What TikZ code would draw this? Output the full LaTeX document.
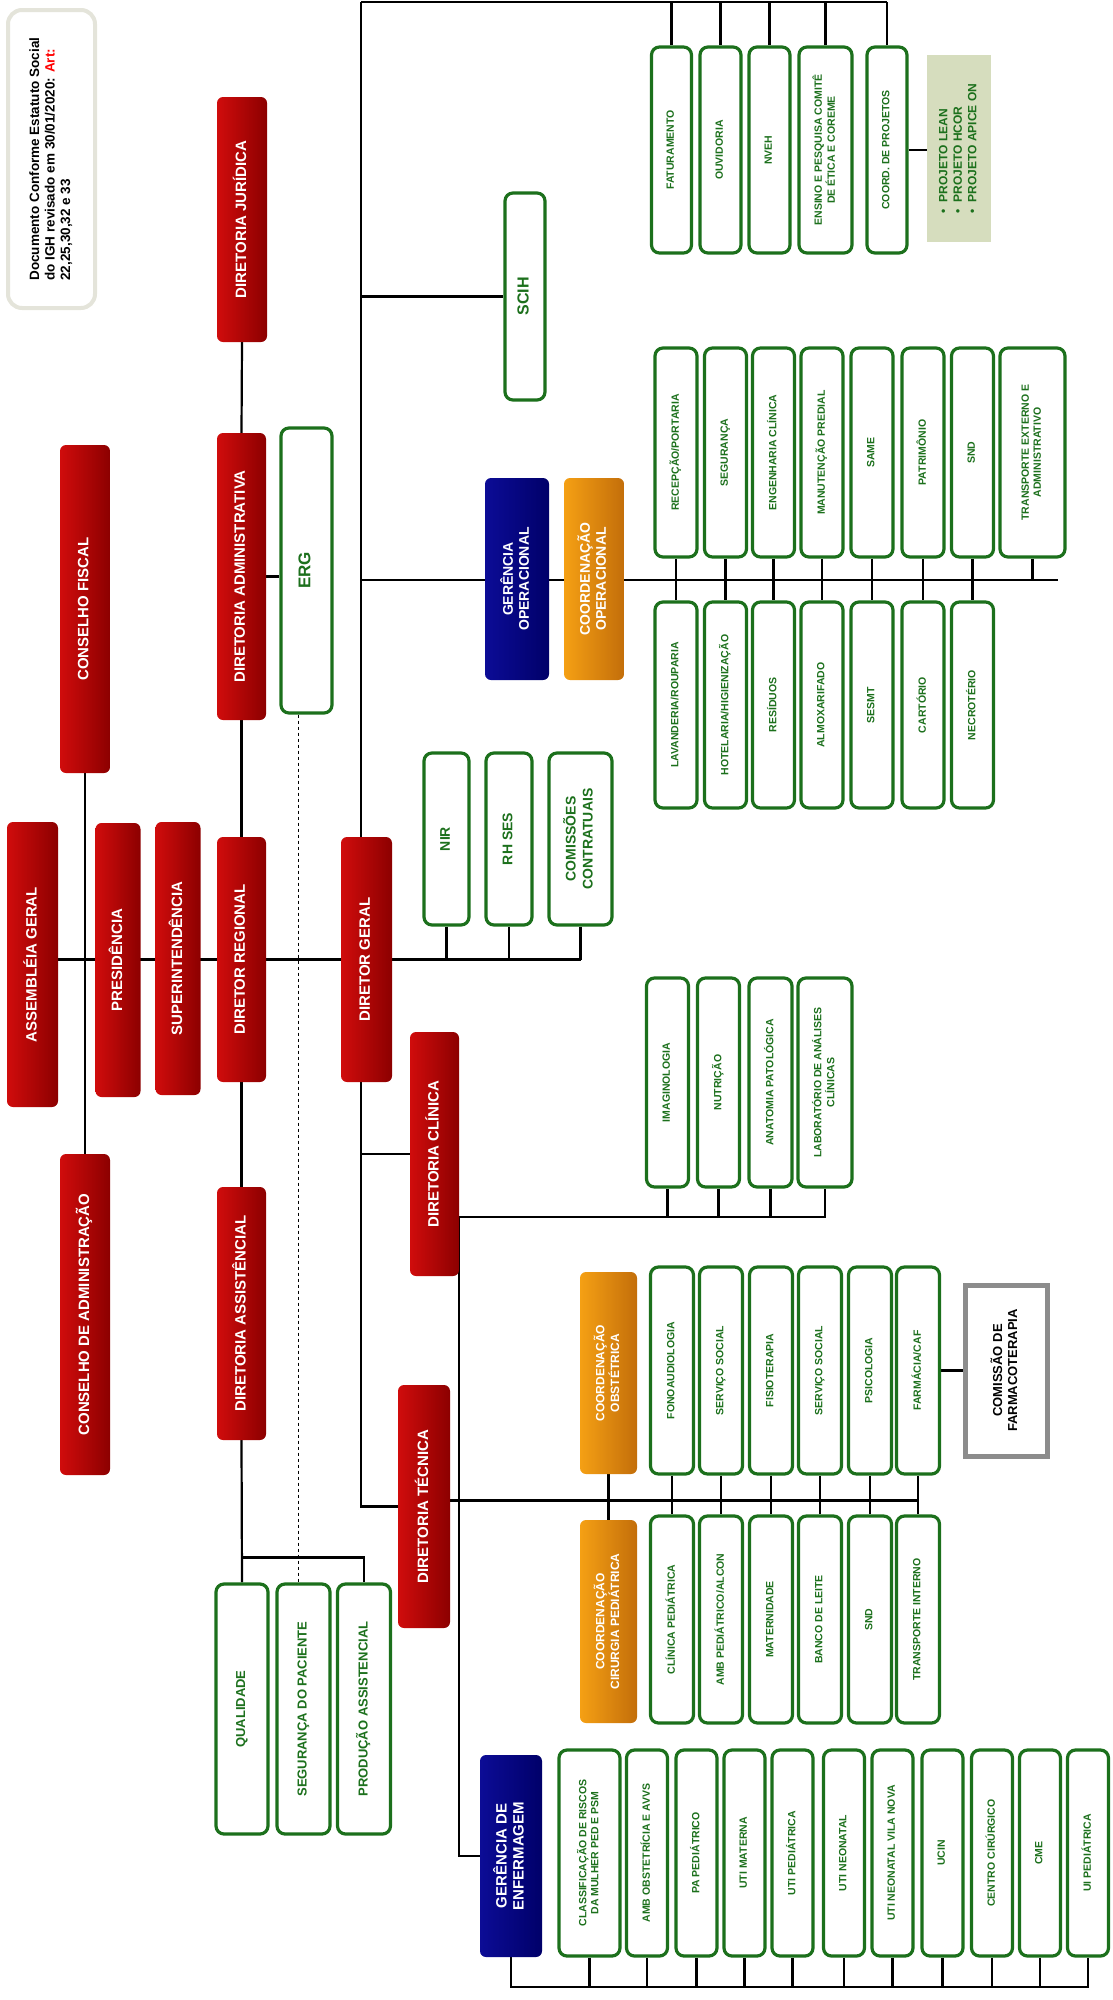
\documentclass[tikz,border=0pt]{standalone}
\usepackage{fontspec}
\setmainfont{Liberation Sans}
\usepackage{graphicx}
\usetikzlibrary{backgrounds}

\definecolor{dirred}{RGB}{208,12,12}
\definecolor{dirdark}{RGB}{140,0,0}
\definecolor{gernavy}{RGB}{12,12,150}
\definecolor{gerdark}{RGB}{0,0,105}
\definecolor{coordorange}{RGB}{245,160,20}
\definecolor{coorddark}{RGB}{195,110,10}
\definecolor{setorgreen}{RGB}{28,112,28}
\definecolor{projfill}{RGB}{214,221,190}
\definecolor{notegray}{RGB}{228,228,218}
\definecolor{comgray}{RGB}{140,140,140}

\newcommand{\vtext}[1]{\rotatebox{90}{\begin{tabular}{@{}c@{}}#1\end{tabular}}}
\newcommand{\vleft}[1]{\rotatebox{90}{\begin{tabular}{@{}l@{}}#1\end{tabular}}}

\begin{document}
\begin{tikzpicture}[x=1pt,y=-1pt,
	dirbox/.style={rounded corners=6, left color=dirred, right color=dirdark, text=white, inner sep=0, font=\bfseries\fontsize{15}{17}\selectfont},
	gerbox/.style={rounded corners=6, left color=gernavy, right color=gerdark, text=white, inner sep=0, font=\bfseries\fontsize{14}{16}\selectfont},
	coordbox/.style={rounded corners=6, left color=coordorange, right color=coorddark, text=white, inner sep=0, font=\bfseries\fontsize{12}{14}\selectfont},
	setor/.style={draw=setorgreen, line width=3.2, rounded corners=8, fill=white, text=setorgreen, inner sep=0, font=\bfseries\fontsize{10.5}{12}\selectfont},
	setormid/.style={setor, font=\bfseries\fontsize{13}{15}\selectfont},
	setorbig/.style={setor, font=\bfseries\fontsize{14}{17}\selectfont},
	notebox/.style={draw=notegray, line width=4, rounded corners=14, fill=white, inner sep=0, font=\bfseries\fontsize{13.5}{15.5}\selectfont},
	projbox/.style={fill=projfill, text=setorgreen, inner sep=0, font=\bfseries\fontsize{12}{14.5}\selectfont},
	combox/.style={draw=comgray, line width=5, fill=white, inner sep=0, font=\bfseries\fontsize{13}{15}\selectfont},
	link/.style={line width=2.2, black},
	]
	\useasboundingbox (0,0) rectangle (1112,2000);

	\node[notebox, minimum width=87, minimum height=298] (nota) at (51.5,159) {\vleft{Documento Conforme Estatuto Social\\do IGH revisado em 30/01/2020: \textcolor{red}{Art:}\\22,25,30,32 e 33}};

	\node[dirbox, minimum width=50, minimum height=245] (jur) at (242,219.5) {\vtext{DIRETORIA JURÍDICA}};
	\node[dirbox, minimum width=49, minimum height=287] (dadm) at (241.5,576.5) {\vtext{DIRETORIA ADMINISTRATIVA}};
	\node[dirbox, minimum width=50, minimum height=328] (cfis) at (85,609) {\vtext{CONSELHO FISCAL}};
	\node[dirbox, minimum width=51, minimum height=285] (asm) at (32.5,964.5) {\vtext{ASSEMBLÉIA GERAL}};
	\node[dirbox, minimum width=45, minimum height=274] (pres) at (118,960) {\vtext{PRESIDÊNCIA}};
	\node[dirbox, minimum width=45, minimum height=273] (sup) at (178,958.5) {\vtext{SUPERINTENDÊNCIA}};
	\node[dirbox, minimum width=49, minimum height=245] (dreg) at (241.5,959.5) {\vtext{DIRETOR REGIONAL}};
	\node[dirbox, minimum width=51, minimum height=245] (dger) at (366.5,959.5) {\vtext{DIRETOR GERAL}};
	\node[dirbox, minimum width=50, minimum height=321] (cadm) at (85,1314.5) {\vtext{CONSELHO DE ADMINISTRAÇÃO}};
	\node[dirbox, minimum width=49, minimum height=253] (dass) at (241.5,1313.5) {\vtext{DIRETORIA ASSISTÊNCIAL}};
	\node[dirbox, minimum width=49, minimum height=244] (dcli) at (434.5,1154) {\vtext{DIRETORIA CLÍNICA}};
	\node[dirbox, minimum width=52, minimum height=243] (dtec) at (424,1506.5) {\vtext{DIRETORIA TÉCNICA}};

	\node[setor, font=\bfseries\fontsize{17}{19}\selectfont, minimum width=51, minimum height=285] (erg) at (306.5,570.5) {\vtext{ERG}};
	\node[setor, font=\bfseries\fontsize{16}{18}\selectfont, minimum width=40, minimum height=207] (scih) at (525,296.5) {\vtext{SCIH}};
	\node[setorbig, minimum width=45, minimum height=172] (nir) at (446.5,839) {\vtext{NIR}};
	\node[setorbig, minimum width=46, minimum height=172] (rhses) at (509,839) {\vtext{RH SES}};
	\node[setorbig, minimum width=63, minimum height=172] (comc) at (580.5,839) {\vtext{COMISSÕES\\CONTRATUAIS}};

	\node[setor, minimum width=40, minimum height=206] (fat) at (671.5,150) {\vtext{FATURAMENTO}};
	\node[setor, minimum width=41, minimum height=206] (ouv) at (720.5,150) {\vtext{OUVIDORIA}};
	\node[setor, minimum width=41, minimum height=206] (nveh) at (769.5,150) {\vtext{NVEH}};
	\node[setor, minimum width=53, minimum height=206] (ens) at (825.5,150) {\vtext{ENSINO E PESQUISA COMITÊ\\DE ÉTICA E COREME}};
	\node[setor, minimum width=40, minimum height=206] (cproj) at (887,150) {\vtext{COORD. DE PROJETOS}};
	\node[projbox, minimum width=64, minimum height=187] (proj) at (959,148.5) {\vleft{\textbullet\ \ PROJETO LEAN\\\textbullet\ \ PROJETO HCOR\\\textbullet\ \ PROJETO APICE ON}};

	\node[gerbox, minimum width=64, minimum height=202] (gop) at (517,579) {\vtext{GERÊNCIA\\OPERACIONAL}};
	\node[coordbox, font=\bfseries\fontsize{14}{16}\selectfont, minimum width=60, minimum height=202] (cop) at (594,579) {\vtext{COORDENAÇÃO\\OPERACIONAL}};

	\node[setor, minimum width=42, minimum height=209] (recep) at (676,452.5) {\vtext{RECEPÇÃO/PORTARIA}};
	\node[setor, minimum width=42, minimum height=209] (segur) at (725.5,452.5) {\vtext{SEGURANÇA}};
	\node[setor, minimum width=42, minimum height=209] (engc) at (773.5,452.5) {\vtext{ENGENHARIA CLÍNICA}};
	\node[setor, minimum width=42, minimum height=209] (manut) at (822,452.5) {\vtext{MANUTENÇÃO PREDIAL}};
	\node[setor, minimum width=42, minimum height=209] (same) at (872,452.5) {\vtext{SAME}};
	\node[setor, minimum width=42, minimum height=209] (patr) at (923,452.5) {\vtext{PATRIMÔNIO}};
	\node[setor, minimum width=42, minimum height=209] (snd) at (972.5,452.5) {\vtext{SND}};
	\node[setor, minimum width=65, minimum height=209] (transe) at (1032.5,452.5) {\vtext{TRANSPORTE EXTERNO E\\ADMINISTRATIVO}};

	\node[setor, minimum width=42, minimum height=206] (lav) at (676,705) {\vtext{LAVANDERIA/ROUPARIA}};
	\node[setor, minimum width=42, minimum height=206] (hig) at (725.5,705) {\vtext{HOTELARIA/HIGIENIZAÇÃO}};
	\node[setor, minimum width=42, minimum height=206] (resid) at (773.5,705) {\vtext{RESÍDUOS}};
	\node[setor, minimum width=42, minimum height=206] (almox) at (822,705) {\vtext{ALMOXARIFADO}};
	\node[setor, minimum width=42, minimum height=206] (sesmt) at (872,705) {\vtext{SESMT}};
	\node[setor, minimum width=42, minimum height=206] (cart) at (923,705) {\vtext{CARTÓRIO}};
	\node[setor, minimum width=42, minimum height=206] (necro) at (972.5,705) {\vtext{NECROTÉRIO}};

	\node[setor, minimum width=42, minimum height=209] (imag) at (667.5,1082.5) {\vtext{IMAGINOLOGIA}};
	\node[setor, minimum width=42, minimum height=209] (nutr) at (718.5,1082.5) {\vtext{NUTRIÇÃO}};
	\node[setor, minimum width=43, minimum height=209] (anat) at (770.5,1082.5) {\vtext{ANATOMIA PATOLÓGICA}};
	\node[setor, minimum width=54, minimum height=209] (labc) at (825,1082.5) {\vtext{LABORATÓRIO DE ANÁLISES\\CLÍNICAS}};

	\node[coordbox, minimum width=57, minimum height=202] (obst) at (608.5,1373) {\vtext{COORDENAÇÃO\\OBSTÉTRICA}};
	\node[coordbox, minimum width=57, minimum height=203] (cirp) at (608.5,1621.5) {\vtext{COORDENAÇÃO\\CIRURGIA PEDIÁTRICA}};

	\node[setor, minimum width=43, minimum height=207] (fono) at (672,1370.5) {\vtext{FONOAUDIOLOGIA}};
	\node[setor, minimum width=43, minimum height=207] (servs) at (721,1370.5) {\vtext{SERVIÇO SOCIAL}};
	\node[setor, minimum width=43, minimum height=207] (fisio) at (771,1370.5) {\vtext{FISIOTERAPIA}};
	\node[setor, minimum width=43, minimum height=207] (servsb) at (820,1370.5) {\vtext{SERVIÇO SOCIAL}};
	\node[setor, minimum width=43, minimum height=207] (psico) at (870,1370.5) {\vtext{PSICOLOGIA}};
	\node[setor, minimum width=43, minimum height=207] (farm) at (918,1370.5) {\vtext{FARMÁCIA/CAF}};
	\node[combox, minimum width=82, minimum height=171] (comf) at (1006,1370.5) {\vtext{COMISSÃO DE\\FARMACOTERAPIA}};

	\node[setor, minimum width=43, minimum height=207] (clinp) at (672,1619.5) {\vtext{CLÍNICA PEDIÁTRICA}};
	\node[setor, minimum width=43, minimum height=207] (ambp) at (721,1619.5) {\vtext{AMB PEDIÁTRICO/ALCON}};
	\node[setor, minimum width=43, minimum height=207] (mater) at (771,1619.5) {\vtext{MATERNIDADE}};
	\node[setor, minimum width=43, minimum height=207] (bleite) at (820,1619.5) {\vtext{BANCO DE LEITE}};
	\node[setor, minimum width=43, minimum height=207] (sndt) at (870,1619.5) {\vtext{SND}};
	\node[setor, minimum width=43, minimum height=207] (transi) at (918,1619.5) {\vtext{TRANSPORTE INTERNO}};

	\node[setormid, minimum width=52, minimum height=250] (qual) at (242,1709) {\vtext{QUALIDADE}};
	\node[setormid, minimum width=53, minimum height=250] (segp) at (303.5,1709) {\vtext{SEGURANÇA DO PACIENTE}};
	\node[setormid, minimum width=53, minimum height=250] (prod) at (364,1709) {\vtext{PRODUÇÃO ASSISTENCIAL}};

	\node[gerbox, font=\bfseries\fontsize{15}{17}\selectfont, minimum width=62, minimum height=202] (genf) at (511,1856) {\vtext{GERÊNCIA DE\\ENFERMAGEM}};
	\node[setor, minimum width=61, minimum height=206] (classif) at (589.5,1853) {\vtext{CLASSIFICAÇÃO DE RISCOS\\DA MULHER PED E PSM}};
	\node[setor, minimum width=41, minimum height=206] (ambo) at (647,1853) {\vtext{AMB OBSTETRÍCIA E AVVS}};
	\node[setor, minimum width=41, minimum height=206] (pap) at (696.5,1853) {\vtext{PA PEDIÁTRICO}};
	\node[setor, minimum width=41, minimum height=206] (utim) at (744.5,1853) {\vtext{UTI MATERNA}};
	\node[setor, minimum width=41, minimum height=206] (utip) at (792.5,1853) {\vtext{UTI PEDIÁTRICA}};
	\node[setor, minimum width=41, minimum height=206] (utin) at (844,1853) {\vtext{UTI NEONATAL}};
	\node[setor, minimum width=41, minimum height=206] (utinv) at (892.5,1853) {\vtext{UTI NEONATAL VILA NOVA}};
	\node[setor, minimum width=41, minimum height=206] (ucin) at (942.5,1853) {\vtext{UCIN}};
	\node[setor, minimum width=41, minimum height=206] (ccir) at (992,1853) {\vtext{CENTRO CIRÚRGICO}};
	\node[setor, minimum width=41, minimum height=206] (cme) at (1040,1853) {\vtext{CME}};
	\node[setor, minimum width=41, minimum height=206] (uip) at (1088,1853) {\vtext{UI PEDIÁTRICA}};

	\begin{scope}[on background layer]
	\coordinate (topo) at (361,2);
	\coordinate (opbus) at (361,580);
	\coordinate (opfim) at (1058,580);
	\coordinate (clibus) at ([yshift=-63pt]dcli.east);
	\coordinate (tecbus) at ([yshift=6pt]dtec.east);
	\coordinate (enfbus) at ([yshift=-30pt]genf.south);

	\draw[link] (topo) -- (topo |- dger.north);
	\draw[link] (topo |- dger.south) |- (dtec.west);
	\draw[link] (topo) -- (topo -| cproj.north);
	\foreach \n in {fat,ouv,nveh,ens,cproj}
		\draw[link] (\n.north) -- (\n.north |- topo);
	\draw[link] (cproj.east) -- (cproj.east -| proj.west);
	\draw[link] (topo |- scih.west) -- (scih.west);

	\draw[link] (opbus) -- (opfim);
	\foreach \a/\b in {recep/lav,segur/hig,engc/resid,manut/almox,same/sesmt,patr/cart,snd/necro}
		\draw[link] (\a.south) -- (\b.north);
	\draw[link] (transe.south) -- (transe.south |- opbus);

	\draw[link] (jur.south) -- (dadm.north);
	\draw[link] (dadm.south) -- (dreg.north);
	\draw[link] (dreg.south) -- (dass.north);
	\draw[link] (dass.south) -- (qual.north);
	\draw[link] ([yshift=25pt]qual.north) -| (prod.north);
	\draw[link] (dadm.east) -- (dadm.east -| erg.west);
	\draw[dashed, line width=1] ([xshift=-8pt]erg.south) -- ([xshift=-8pt]erg.south |- segp.north);
	\draw[link] (cfis.south) -- (cadm.north);
	\draw[link] (asm.east |- dger.west) -- (dger.west);
	\draw[link] (dger.east) -- (dger.east -| comc.south);
	\foreach \n in {nir,rhses,comc}
		\draw[link] (\n.south) -- (\n.south |- dger.east);

	\draw[link] (topo |- dcli.west) -- (dcli.west);
	\draw[link] (clibus) -| (labc.south);
	\foreach \n in {imag,nutr,anat}
		\draw[link] (\n.south) -- (\n.south |- clibus);
	\draw[link] (clibus) |- (genf.west);

	\draw[link] (tecbus) -- (tecbus -| farm.south);
	\draw[link] (obst.south) -- (cirp.north);
	\foreach \a/\b in {fono/clinp,servs/ambp,fisio/mater,servsb/bleite,psico/sndt,farm/transi}
		\draw[link] (\a.south) -- (\b.north);
	\draw[link] (farm.east) -- (farm.east -| comf.west);

	\draw[link] (genf.south) -- (enfbus) -| (uip.south);
	\foreach \n in {classif,ambo,pap,utim,utip,utin,utinv,ucin,ccir,cme}
		\draw[link] (\n.south) -- (\n.south |- enfbus);
	\end{scope}
\end{tikzpicture}
\end{document}
